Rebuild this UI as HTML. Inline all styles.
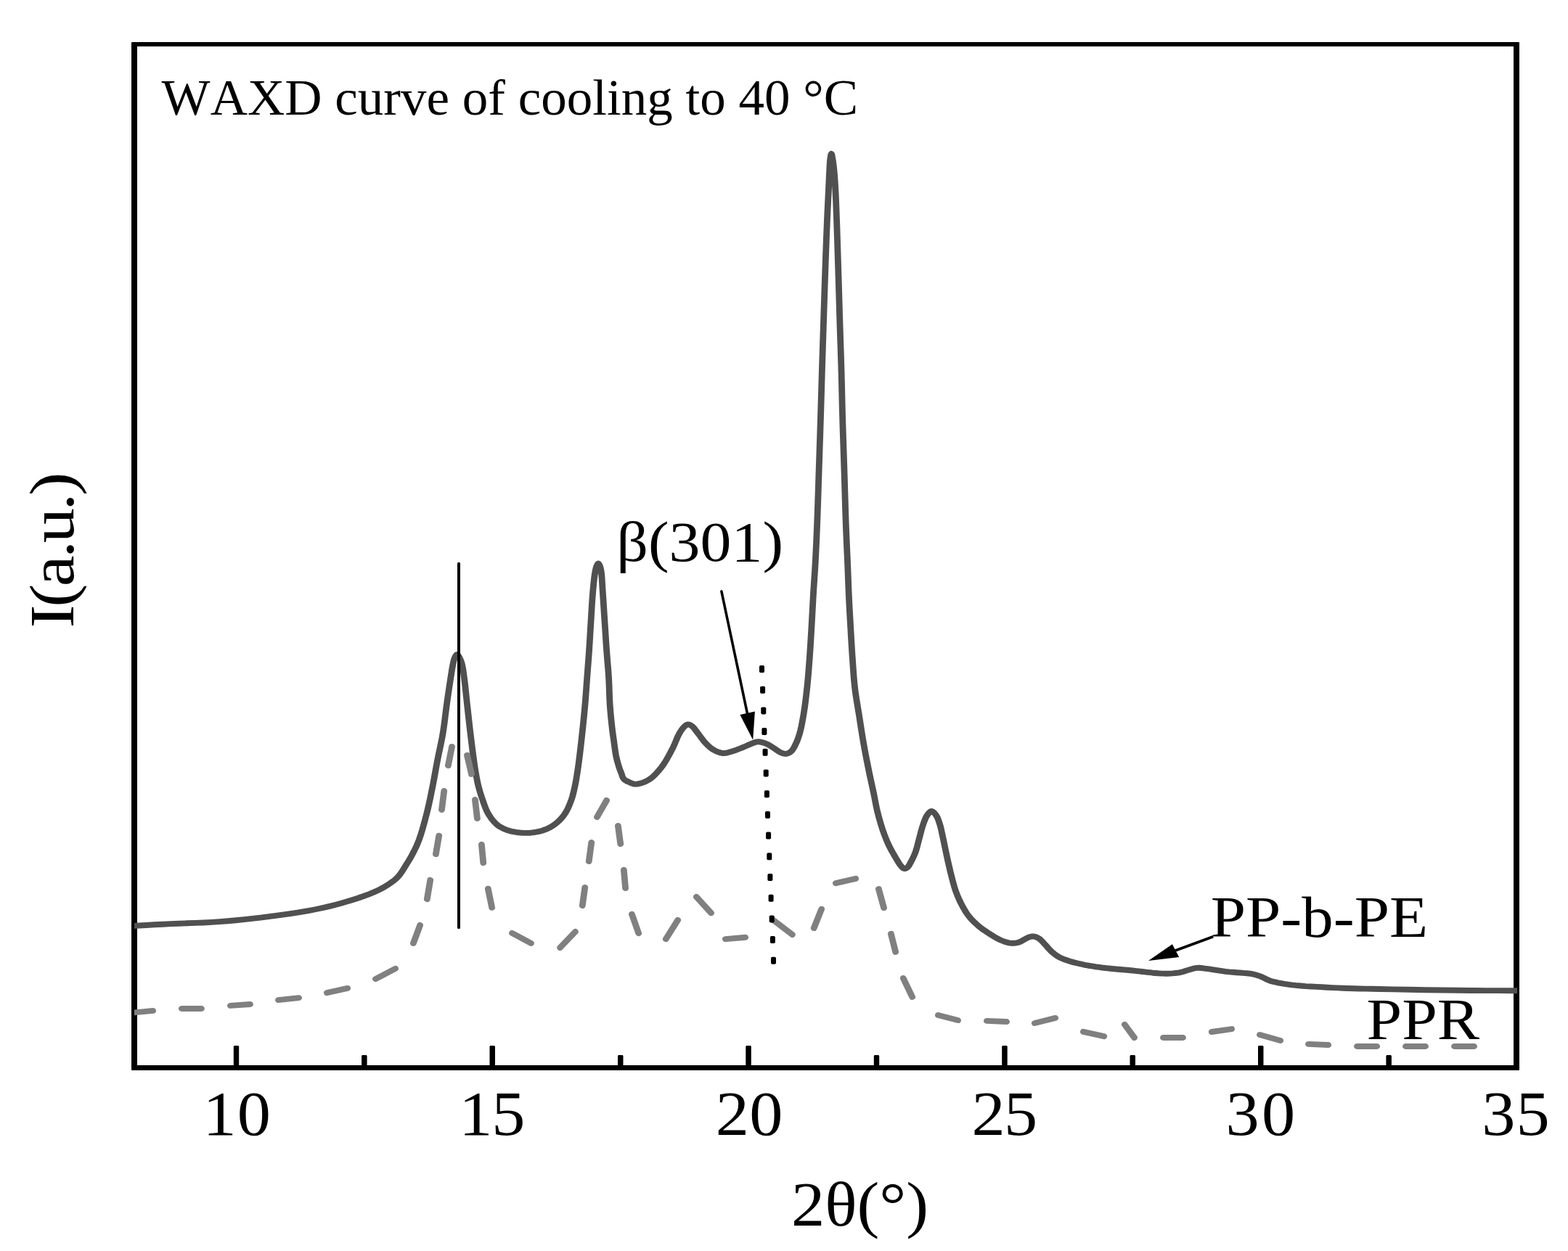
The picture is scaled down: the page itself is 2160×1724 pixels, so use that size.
<!DOCTYPE html>
<html lang="en">
<head>
<meta charset="utf-8">
<title>WAXD curve of cooling to 40 °C</title>
<style>
html,body{margin:0;padding:0;background:#fff;}
body{width:2160px;height:1724px;overflow:hidden;}
svg{display:block;}
text{font-family:"Liberation Serif","DejaVu Serif",serif;fill:#000;font-kerning:none;}
</style>
</head>
<body>
<svg width="2160" height="1724" viewBox="0 0 2160 1724">
<defs><clipPath id="plotclip"><rect x="185" y="58" width="1905" height="1417"/></clipPath></defs>
<rect width="2160" height="1724" fill="#fff"/>
<g id="frame" fill="#000">
<rect x="181" y="58" width="8" height="1417" rx="1.5"/>
<rect x="2085" y="58" width="8" height="1417" rx="1.5"/>
<rect x="181" y="58" width="1912" height="6" rx="1.5"/>
<rect x="181" y="1468" width="1912" height="7" rx="1.5"/>
</g>
<g id="ticks" fill="#000"><path d="M321.8,1470V1442.0L322.8,1441.0H328.2L329.2,1442.0V1470Z"/><path d="M674.5,1470V1442.0L675.5,1441.0H681.0L682.0,1442.0V1470Z"/><path d="M1027.3,1470V1442.0L1028.3,1441.0H1033.8L1034.8,1442.0V1470Z"/><path d="M1380.2,1470V1442.0L1381.2,1441.0H1386.7L1387.7,1442.0V1470Z"/><path d="M1733.0,1470V1442.0L1734.0,1441.0H1739.5L1740.5,1442.0V1470Z"/><path d="M498.1,1470V1455.0L499.1,1454.0H504.6L505.6,1455.0V1470Z"/><path d="M851.0,1470V1455.0L852.0,1454.0H857.5L858.5,1455.0V1470Z"/><path d="M1203.8,1470V1455.0L1204.8,1454.0H1210.2L1211.2,1455.0V1470Z"/><path d="M1556.5,1470V1455.0L1557.5,1454.0H1563.0L1564.0,1455.0V1470Z"/><path d="M1909.4,1470V1455.0L1910.4,1454.0H1915.9L1916.9,1455.0V1470Z"/></g>
<g clip-path="url(#plotclip)">
<g id="ppbpe-curve" fill="none" stroke="#505050" stroke-width="7.9" stroke-linejoin="round" stroke-linecap="butt" transform="scale(1.114,1)">
<path d="M162.48,1276.1 L162.68,1276.1 L163.24,1276.1 L164.08,1276.0 L165.11,1276.0 L166.25,1275.9 L172.08,1275.5 L180.69,1275.0 L190.93,1274.3 L201.64,1273.7 L211.67,1273.1 L221.53,1272.7 L231.53,1272.3 L241.61,1271.9 L251.71,1271.5 L261.76,1270.9 L271.78,1270.1 L281.81,1269.2 L291.83,1268.2 L301.84,1267.1 L311.85,1265.9 L322.04,1264.6 L332.39,1263.2 L342.65,1261.7 L352.58,1260.2 L361.94,1258.6 L369.05,1257.4 L375.77,1256.1 L382.27,1254.9 L388.71,1253.5 L395.24,1252.0 L401.94,1250.4 L408.64,1248.6 L415.32,1246.7 L421.99,1244.7 L428.64,1242.6 L435.54,1240.2 L442.61,1237.7 L449.57,1235.0 L456.13,1232.3 L462.03,1229.6 L465.82,1227.7 L469.30,1225.9 L472.55,1224.0 L475.66,1222.1 L478.73,1220.0 L481.61,1217.9 L484.42,1215.7 L487.12,1213.5 L489.69,1211.0 L492.10,1208.4 L494.37,1205.4 L496.46,1202.2 L498.42,1198.8 L500.30,1195.3 L502.15,1192.0 L503.89,1188.9 L505.56,1185.9 L507.19,1182.8 L508.77,1179.7 L510.32,1176.5 L511.96,1173.0 L513.55,1169.4 L515.10,1165.7 L516.62,1161.8 L518.13,1157.5 L520.18,1150.9 L522.22,1143.5 L524.19,1135.7 L526.07,1127.9 L527.83,1120.3 L529.36,1113.3 L530.77,1106.4 L532.09,1099.5 L533.37,1092.5 L534.65,1085.5 L535.95,1078.1 L537.20,1070.5 L538.42,1063.0 L539.66,1055.4 L540.93,1047.8 L542.30,1040.2 L543.73,1032.7 L545.16,1025.2 L546.53,1017.6 L547.76,1010.0 L548.81,1002.3 L549.73,994.6 L550.58,986.9 L551.43,979.2 L552.33,971.6 L553.31,963.9 L554.33,956.1 L555.36,948.3 L556.35,941.0 L557.27,934.4 L557.86,930.2 L558.40,926.2 L558.93,922.5 L559.47,919.0 L560.05,915.8 L560.49,913.6 L560.92,911.4 L561.37,909.4 L561.88,907.6 L562.48,906.0 L562.96,904.9 L563.49,903.9 L564.04,902.9 L564.61,902.3 L565.17,902.0 L565.74,902.2 L566.33,902.9 L566.92,903.8 L567.50,904.9 L568.04,906.0 L568.78,907.6 L569.49,909.4 L570.16,911.4 L570.79,913.5 L571.36,915.8 L572.03,919.0 L572.59,922.5 L573.08,926.2 L573.56,930.2 L574.06,934.4 L574.80,941.0 L575.54,948.4 L576.27,956.1 L577.00,964.0 L577.74,971.6 L578.48,979.0 L579.22,986.5 L579.96,993.9 L580.72,1001.4 L581.51,1008.8 L582.34,1016.4 L583.20,1024.3 L584.07,1032.0 L584.93,1039.4 L585.73,1046.0 L586.24,1050.1 L586.72,1053.9 L587.20,1057.5 L587.69,1061.0 L588.24,1064.6 L588.83,1068.3 L589.43,1072.1 L590.08,1075.8 L590.78,1079.5 L591.56,1083.2 L592.44,1086.9 L593.38,1090.6 L594.39,1094.3 L595.46,1098.0 L596.59,1101.7 L597.76,1105.5 L598.95,1109.3 L600.22,1113.1 L601.63,1116.8 L603.23,1120.3 L604.97,1123.6 L606.87,1126.8 L608.91,1129.9 L611.06,1132.7 L613.29,1135.2 L615.32,1137.1 L617.44,1138.8 L619.63,1140.2 L621.87,1141.5 L624.15,1142.7 L626.40,1143.7 L628.69,1144.5 L631.02,1145.3 L633.40,1145.9 L635.82,1146.4 L638.41,1146.9 L641.05,1147.3 L643.73,1147.6 L646.45,1147.8 L649.19,1147.9 L652.14,1147.9 L655.14,1147.7 L658.17,1147.4 L661.19,1147.0 L664.18,1146.4 L667.25,1145.6 L670.34,1144.7 L673.40,1143.5 L676.36,1142.3 L679.17,1140.8 L681.72,1139.2 L684.17,1137.5 L686.51,1135.6 L688.74,1133.6 L690.84,1131.5 L692.72,1129.5 L694.47,1127.4 L696.11,1125.2 L697.68,1122.8 L699.19,1120.3 L700.91,1117.0 L702.55,1113.3 L704.07,1109.5 L705.47,1105.5 L706.73,1101.7 L707.79,1098.0 L708.70,1094.3 L709.50,1090.6 L710.24,1086.9 L710.95,1083.2 L711.63,1079.5 L712.26,1075.8 L712.83,1072.1 L713.38,1068.3 L713.91,1064.6 L714.41,1061.0 L714.88,1057.5 L715.32,1053.9 L715.77,1050.1 L716.25,1046.0 L716.99,1039.4 L717.77,1032.0 L718.57,1024.3 L719.36,1016.4 L720.11,1008.8 L720.82,1001.4 L721.51,993.9 L722.18,986.5 L722.82,979.0 L723.43,971.6 L723.98,964.2 L724.49,956.7 L724.98,949.3 L725.45,941.8 L725.94,934.4 L726.45,927.0 L726.97,919.5 L727.48,912.1 L727.98,904.6 L728.46,897.2 L728.89,889.8 L729.30,882.5 L729.69,875.1 L730.10,867.6 L730.52,860.0 L731.00,851.2 L731.48,842.1 L731.98,832.9 L732.53,824.0 L733.12,815.8 L733.64,809.5 L734.17,803.4 L734.73,797.6 L735.34,792.3 L736.00,787.9 L736.37,785.8 L736.76,784.0 L737.16,782.4 L737.59,780.9 L738.06,779.6 L738.40,778.8 L738.75,778.0 L739.12,777.3 L739.49,776.8 L739.86,776.6 L740.22,776.8 L740.60,777.3 L740.97,778.0 L741.32,778.8 L741.65,779.6 L742.09,780.9 L742.48,782.4 L742.82,784.0 L743.14,785.8 L743.45,787.9 L743.93,792.3 L744.32,797.6 L744.65,803.4 L744.97,809.5 L745.33,815.8 L745.84,824.1 L746.36,832.9 L746.89,842.1 L747.42,851.2 L747.94,860.0 L748.39,867.6 L748.83,875.1 L749.26,882.5 L749.71,889.8 L750.18,897.2 L750.70,904.6 L751.25,912.1 L751.81,919.5 L752.33,927.0 L752.78,934.4 L753.12,941.9 L753.36,949.4 L753.58,956.9 L753.85,964.3 L754.22,971.6 L754.70,978.6 L755.26,985.7 L755.87,992.6 L756.50,999.1 L757.09,1005.0 L757.48,1008.5 L757.86,1011.7 L758.25,1014.7 L758.65,1017.8 L759.07,1021.0 L759.55,1025.0 L760.03,1029.1 L760.54,1033.3 L761.11,1037.4 L761.76,1041.4 L762.44,1044.9 L763.21,1048.3 L764.01,1051.6 L764.83,1054.8 L765.62,1057.6 L766.17,1059.4 L766.72,1061.1 L767.27,1062.7 L767.83,1064.2 L768.40,1065.8 L768.92,1067.4 L769.40,1069.1 L769.92,1070.7 L770.54,1072.2 L771.36,1073.5 L772.42,1074.6 L773.67,1075.5 L775.03,1076.4 L776.44,1077.1 L777.83,1077.8 L779.18,1078.5 L780.56,1079.2 L781.95,1079.8 L783.38,1080.3 L784.83,1080.6 L786.39,1080.6 L788.00,1080.5 L789.63,1080.1 L791.25,1079.7 L792.82,1079.2 L794.33,1078.7 L795.82,1078.1 L797.29,1077.5 L798.75,1076.7 L800.18,1075.9 L801.66,1075.0 L803.11,1074.0 L804.55,1072.9 L805.99,1071.7 L807.45,1070.3 L809.36,1068.3 L811.34,1066.0 L813.31,1063.6 L815.18,1061.2 L816.88,1058.9 L818.11,1057.2 L819.20,1055.5 L820.24,1053.9 L821.30,1052.1 L822.44,1050.1 L824.35,1046.6 L826.41,1042.5 L828.52,1038.2 L830.59,1033.8 L832.50,1029.6 L834.09,1025.7 L835.55,1021.8 L836.97,1018.0 L838.41,1014.3 L839.95,1011.0 L841.25,1008.6 L842.60,1006.3 L843.97,1004.1 L845.34,1002.3 L846.68,1000.8 L847.51,1000.0 L848.32,999.4 L849.13,998.9 L849.95,998.5 L850.81,998.4 L851.78,998.5 L852.77,998.8 L853.79,999.3 L854.82,1000.0 L855.83,1000.8 L857.32,1002.3 L858.81,1004.2 L860.31,1006.4 L861.83,1008.7 L863.38,1011.0 L865.13,1013.6 L866.91,1016.3 L868.72,1019.0 L870.59,1021.7 L872.53,1024.1 L874.40,1026.2 L876.32,1028.2 L878.30,1030.2 L880.35,1031.9 L882.50,1033.4 L884.72,1034.7 L887.05,1035.9 L889.44,1036.9 L891.86,1037.6 L894.25,1038.0 L896.57,1037.9 L898.89,1037.5 L901.21,1036.8 L903.55,1036.0 L905.92,1035.2 L908.58,1034.3 L911.28,1033.2 L913.99,1032.0 L916.68,1030.8 L919.30,1029.6 L921.74,1028.5 L924.18,1027.3 L926.56,1026.1 L928.84,1025.0 L930.97,1024.1 L932.38,1023.5 L933.68,1023.0 L934.93,1022.6 L936.22,1022.3 L937.61,1022.2 L939.50,1022.3 L941.51,1022.8 L943.59,1023.4 L945.66,1024.1 L947.67,1025.0 L949.72,1026.1 L951.75,1027.3 L953.75,1028.7 L955.71,1030.1 L957.63,1031.5 L959.36,1032.8 L961.06,1034.1 L962.73,1035.4 L964.36,1036.5 L965.98,1037.4 L967.25,1037.9 L968.50,1038.4 L969.73,1038.7 L970.95,1038.9 L972.17,1038.8 L973.49,1038.5 L974.82,1037.9 L976.14,1037.2 L977.39,1036.3 L978.55,1035.2 L979.76,1033.7 L980.85,1032.0 L981.86,1030.1 L982.81,1028.0 L983.75,1025.9 L984.86,1023.3 L985.91,1020.5 L986.91,1017.5 L987.86,1014.3 L988.78,1011.0 L989.90,1006.3 L990.94,1001.2 L991.91,995.8 L992.83,990.2 L993.72,984.5 L994.70,977.5 L995.62,970.2 L996.48,962.6 L997.28,955.0 L998.03,947.5 L998.70,940.0 L999.31,932.5 L999.87,925.1 L1000.39,917.5 L1000.90,910.0 L1001.39,902.5 L1001.84,895.0 L1002.27,887.5 L1002.70,879.7 L1003.14,871.6 L1003.70,860.9 L1004.26,849.5 L1004.82,837.8 L1005.38,826.4 L1005.92,815.8 L1006.37,808.1 L1006.80,800.9 L1007.24,793.8 L1007.66,786.6 L1008.08,778.9 L1008.57,768.6 L1009.05,757.8 L1009.52,746.6 L1009.97,735.0 L1010.41,723.2 L1010.89,709.0 L1011.35,694.2 L1011.79,679.1 L1012.22,663.9 L1012.66,648.8 L1013.10,633.9 L1013.53,619.0 L1013.97,604.2 L1014.39,589.3 L1014.81,574.4 L1015.22,559.3 L1015.63,543.9 L1016.02,528.7 L1016.41,513.9 L1016.79,500.0 L1017.08,489.6 L1017.36,479.9 L1017.63,470.4 L1017.92,460.7 L1018.22,450.3 L1018.62,436.4 L1019.04,421.7 L1019.47,406.4 L1019.92,391.1 L1020.38,376.0 L1020.86,360.7 L1021.37,345.0 L1021.89,329.5 L1022.40,314.8 L1022.89,301.6 L1023.23,293.3 L1023.56,285.5 L1023.89,278.3 L1024.20,271.3 L1024.51,264.4 L1024.75,258.5 L1024.98,252.6 L1025.21,247.0 L1025.44,241.6 L1025.67,236.5 L1025.84,232.7 L1026.00,229.1 L1026.16,225.6 L1026.37,222.4 L1026.66,219.5 L1026.91,217.6 L1027.19,215.6 L1027.49,213.8 L1027.79,212.5 L1028.10,212.0 L1028.40,212.5 L1028.71,213.8 L1029.02,215.6 L1029.33,217.6 L1029.62,219.5 L1030.04,222.4 L1030.43,225.6 L1030.81,229.1 L1031.17,232.7 L1031.51,236.5 L1031.91,241.6 L1032.27,247.0 L1032.61,252.6 L1032.92,258.5 L1033.21,264.4 L1033.52,271.3 L1033.79,278.3 L1034.04,285.5 L1034.29,293.3 L1034.56,301.6 L1034.98,314.8 L1035.41,329.5 L1035.85,345.0 L1036.29,360.7 L1036.71,376.0 L1037.12,391.0 L1037.52,406.1 L1037.91,421.2 L1038.30,436.0 L1038.69,450.3 L1039.04,462.6 L1039.39,474.5 L1039.74,486.3 L1040.08,498.0 L1040.39,510.0 L1040.70,522.6 L1040.97,535.4 L1041.23,548.2 L1041.51,561.2 L1041.83,574.4 L1042.22,588.9 L1042.65,603.8 L1043.10,618.8 L1043.55,633.8 L1043.99,648.8 L1044.40,663.9 L1044.80,679.1 L1045.20,694.2 L1045.61,709.0 L1046.05,723.2 L1046.47,735.0 L1046.91,746.5 L1047.36,757.6 L1047.80,768.4 L1048.20,778.9 L1048.51,787.6 L1048.79,795.9 L1049.06,804.1 L1049.33,812.1 L1049.64,820.0 L1049.95,827.2 L1050.27,834.1 L1050.60,841.0 L1050.96,848.2 L1051.35,855.8 L1051.89,866.4 L1052.47,877.8 L1053.10,889.5 L1053.75,901.0 L1054.40,911.6 L1054.90,919.5 L1055.38,927.0 L1055.88,934.3 L1056.47,941.5 L1057.18,948.8 L1058.07,956.3 L1059.09,963.7 L1060.18,971.1 L1061.30,978.6 L1062.39,986.0 L1063.42,993.4 L1064.45,1000.9 L1065.48,1008.3 L1066.56,1015.8 L1067.68,1023.2 L1068.89,1030.7 L1070.14,1038.2 L1071.43,1045.6 L1072.75,1053.0 L1074.06,1060.3 L1075.31,1067.0 L1076.60,1073.7 L1077.89,1080.3 L1079.14,1086.7 L1080.34,1093.0 L1081.31,1098.4 L1082.20,1103.6 L1083.08,1108.7 L1084.03,1113.8 L1085.10,1118.9 L1086.36,1124.4 L1087.73,1129.9 L1089.18,1135.4 L1090.68,1140.8 L1092.19,1145.8 L1093.46,1149.8 L1094.73,1153.5 L1096.04,1157.2 L1097.43,1160.8 L1098.92,1164.4 L1100.64,1168.3 L1102.51,1172.2 L1104.45,1176.1 L1106.33,1179.7 L1108.08,1183.0 L1109.23,1185.2 L1110.32,1187.2 L1111.39,1189.2 L1112.45,1190.9 L1113.55,1192.5 L1114.43,1193.7 L1115.32,1194.8 L1116.21,1195.8 L1117.12,1196.6 L1118.04,1197.0 L1118.85,1197.0 L1119.67,1196.9 L1120.50,1196.5 L1121.31,1195.9 L1122.08,1195.3 L1123.15,1194.1 L1124.16,1192.4 L1125.13,1190.5 L1126.08,1188.5 L1127.02,1186.5 L1128.12,1184.2 L1129.20,1181.7 L1130.26,1179.2 L1131.27,1176.5 L1132.23,1173.7 L1133.25,1170.2 L1134.17,1166.5 L1135.05,1162.7 L1135.91,1158.9 L1136.80,1155.1 L1137.71,1151.3 L1138.60,1147.5 L1139.51,1143.7 L1140.45,1140.0 L1141.47,1136.5 L1142.38,1133.6 L1143.31,1130.8 L1144.28,1128.1 L1145.34,1125.6 L1146.50,1123.5 L1147.47,1122.0 L1148.51,1120.5 L1149.59,1119.2 L1150.70,1118.3 L1151.80,1117.9 L1152.95,1118.2 L1154.16,1119.1 L1155.36,1120.4 L1156.50,1121.9 L1157.54,1123.5 L1158.70,1125.6 L1159.72,1128.1 L1160.63,1130.8 L1161.48,1133.6 L1162.30,1136.5 L1163.18,1139.9 L1163.95,1143.5 L1164.67,1147.2 L1165.39,1151.1 L1166.16,1155.1 L1167.17,1160.3 L1168.20,1165.9 L1169.26,1171.6 L1170.35,1177.3 L1171.45,1183.0 L1172.60,1188.7 L1173.78,1194.4 L1174.97,1200.2 L1176.18,1205.7 L1177.38,1210.9 L1178.32,1214.9 L1179.24,1218.6 L1180.17,1222.3 L1181.18,1225.9 L1182.32,1229.5 L1183.64,1233.3 L1185.08,1237.1 L1186.61,1240.9 L1188.21,1244.6 L1189.86,1248.1 L1191.39,1251.2 L1192.96,1254.3 L1194.59,1257.2 L1196.32,1260.1 L1198.20,1262.9 L1200.32,1265.7 L1202.60,1268.4 L1204.99,1271.1 L1207.43,1273.6 L1209.87,1276.0 L1212.14,1278.0 L1214.43,1280.0 L1216.76,1281.8 L1219.13,1283.5 L1221.54,1285.3 L1224.15,1287.2 L1226.84,1289.1 L1229.56,1291.0 L1232.27,1292.8 L1234.92,1294.3 L1237.18,1295.5 L1239.44,1296.5 L1241.67,1297.5 L1243.85,1298.3 L1245.96,1298.9 L1247.65,1299.3 L1249.29,1299.6 L1250.89,1299.8 L1252.47,1299.8 L1254.04,1299.8 L1255.51,1299.6 L1256.95,1299.4 L1258.38,1299.0 L1259.80,1298.6 L1261.22,1298.0 L1262.80,1297.2 L1264.40,1296.2 L1265.98,1295.2 L1267.50,1294.2 L1268.94,1293.3 L1269.97,1292.7 L1270.95,1292.2 L1271.89,1291.7 L1272.83,1291.3 L1273.79,1291.0 L1274.69,1290.8 L1275.58,1290.6 L1276.49,1290.4 L1277.41,1290.4 L1278.37,1290.5 L1279.64,1290.8 L1280.97,1291.3 L1282.33,1291.9 L1283.69,1292.7 L1285.01,1293.6 L1286.57,1294.9 L1288.11,1296.6 L1289.63,1298.3 L1291.13,1300.2 L1292.64,1302.0 L1294.16,1303.8 L1295.64,1305.8 L1297.13,1307.7 L1298.66,1309.5 L1300.27,1311.3 L1301.94,1312.9 L1303.65,1314.5 L1305.42,1316.0 L1307.28,1317.4 L1309.25,1318.7 L1311.53,1320.0 L1313.94,1321.2 L1316.45,1322.3 L1319.05,1323.3 L1321.72,1324.3 L1324.89,1325.4 L1328.20,1326.4 L1331.60,1327.3 L1335.03,1328.2 L1338.42,1329.0 L1341.73,1329.8 L1345.01,1330.5 L1348.32,1331.1 L1351.67,1331.7 L1355.12,1332.3 L1358.96,1332.9 L1362.88,1333.5 L1366.87,1334.0 L1370.95,1334.5 L1375.13,1335.0 L1380.09,1335.5 L1385.32,1336.0 L1390.59,1336.5 L1395.68,1337.0 L1400.36,1337.5 L1403.61,1337.9 L1406.63,1338.3 L1409.54,1338.6 L1412.44,1339.0 L1415.44,1339.4 L1418.74,1339.8 L1422.10,1340.2 L1425.48,1340.7 L1428.84,1341.0 L1432.14,1341.3 L1435.20,1341.5 L1438.23,1341.6 L1441.24,1341.7 L1444.20,1341.7 L1447.13,1341.6 L1449.87,1341.4 L1452.60,1341.1 L1455.29,1340.8 L1457.90,1340.3 L1460.41,1339.8 L1462.53,1339.2 L1464.55,1338.5 L1466.53,1337.8 L1468.48,1337.1 L1470.47,1336.4 L1472.40,1335.8 L1474.30,1335.2 L1476.22,1334.6 L1478.19,1334.2 L1480.25,1333.9 L1482.76,1333.8 L1485.36,1334.0 L1488.05,1334.4 L1490.86,1334.8 L1493.81,1335.2 L1497.81,1335.8 L1502.10,1336.6 L1506.54,1337.4 L1511.03,1338.2 L1515.44,1338.9 L1519.90,1339.4 L1524.48,1339.8 L1529.01,1340.2 L1533.30,1340.5 L1537.16,1340.9 L1539.56,1341.1 L1541.75,1341.3 L1543.82,1341.5 L1545.85,1341.7 L1547.94,1342.1 L1550.12,1342.6 L1552.31,1343.2 L1554.48,1344.0 L1556.65,1344.7 L1558.80,1345.6 L1560.97,1346.6 L1563.11,1347.8 L1565.25,1349.0 L1567.39,1350.2 L1569.57,1351.2 L1571.65,1352.0 L1573.70,1352.6 L1575.79,1353.2 L1578.01,1353.7 L1580.43,1354.3 L1584.20,1355.1 L1588.33,1355.9 L1592.73,1356.6 L1597.33,1357.3 L1602.06,1357.9 L1608.13,1358.5 L1614.58,1359.1 L1621.24,1359.5 L1627.95,1359.9 L1634.56,1360.3 L1641.01,1360.7 L1647.42,1361.1 L1653.86,1361.4 L1660.38,1361.7 L1667.06,1362.0 L1674.27,1362.3 L1681.38,1362.5 L1688.75,1362.6 L1696.69,1362.8 L1705.57,1363.0 L1722.36,1363.4 L1741.85,1363.8 L1762.63,1364.2 L1783.31,1364.5 L1802.51,1364.8 L1819.30,1365.0 L1837.08,1365.1 L1853.73,1365.1 L1867.15,1365.2 L1875.22,1365.2 L1876.08,1365.2 L1876.82,1365.2 L1877.40,1365.2 L1877.78,1365.2 L1877.92,1365.2"/>
</g>
<g id="ppr-curve" fill="none" stroke="#808080" stroke-width="7.9" stroke-linecap="round" transform="scale(1.114,1)">
<path d="M165.53,1395.45L189.11,1392.93M224.69,1389.93L249.07,1389.93M284.95,1385.92L309.32,1384.03M344.20,1378.13L369.48,1375.12M404.27,1368.12L429.68,1361.92M464.47,1349.10L488.89,1334.83M511.10,1300.03L519.44,1274.91M528.10,1239.15L532.07,1212.83M538.96,1177.21L542.85,1151.65M546.21,1115.95L549.16,1089.85M554.21,1054.99L558.85,1028.90M577.60,1040.75L583.06,1066.85M587.43,1101.95L590.18,1128.05M595.50,1163.74L597.64,1189.15M603.50,1224.75L608.35,1250.85M633.21,1285.91L656.64,1299.95M692.55,1306.00L711.44,1283.95M720.20,1248.05L723.32,1222.85M728.23,1187.05L731.36,1160.95M738.28,1126.01L750.18,1102.90M764.27,1137.94L767.29,1163.10M771.40,1198.75L773.43,1224.09M781.33,1259.81L789.67,1286.11M823.40,1294.11L838.18,1267.92M861.19,1235.92L879.40,1258.14M897.10,1294.11L921.68,1291.79M955.39,1267.25L979.80,1288.05M1006.44,1279.05L1015.89,1252.73M1033.56,1217.11L1058.06,1210.88M1086.51,1225.01L1092.98,1251.10M1101.76,1286.79L1107.42,1311.90M1116.93,1347.99L1128.14,1373.99M1160.11,1399.00L1184.55,1406.08M1220.27,1406.89L1244.72,1408.05M1279.44,1409.95L1304.94,1402.91M1339.67,1421.85L1365.17,1428.13M1390.75,1411.85L1402.69,1430.00M1438.42,1430.00L1462.79,1430.00M1498.41,1421.98L1522.99,1418.06M1557.85,1426.02L1583.29,1434.04M1618.04,1438.92L1642.50,1440.07M1678.12,1442.03L1702.59,1442.03M1738.24,1442.03L1762.66,1442.03M1798.47,1442.03L1822.80,1442.03"/>
</g>
</g>
<g id="dotted" fill="#000"><rect x="1046.0" y="917.0" width="7" height="10" rx="1.8"/><rect x="1047.1" y="945.7" width="7" height="10" rx="1.8"/><rect x="1048.3" y="974.4" width="7" height="10" rx="1.8"/><rect x="1049.4" y="1003.1" width="7" height="10" rx="1.8"/><rect x="1050.6" y="1031.8" width="7" height="10" rx="1.8"/><rect x="1051.7" y="1060.5" width="7" height="10" rx="1.8"/><rect x="1052.9" y="1089.2" width="7" height="10" rx="1.8"/><rect x="1054.0" y="1117.9" width="7" height="10" rx="1.8"/><rect x="1055.1" y="1146.6" width="7" height="10" rx="1.8"/><rect x="1056.3" y="1175.3" width="7" height="10" rx="1.8"/><rect x="1057.4" y="1204.0" width="7" height="10" rx="1.8"/><rect x="1058.6" y="1232.7" width="7" height="10" rx="1.8"/><rect x="1059.7" y="1261.4" width="7" height="10" rx="1.8"/><rect x="1060.9" y="1290.1" width="7" height="10" rx="1.8"/><rect x="1062.0" y="1318.8" width="7" height="10" rx="1.8"/></g>
<g id="markers" stroke="#000" fill="#000">
<path d="M630,776L631,775H633L634,776V1279L633,1280H631L630,1279Z" stroke="none"/>
<path d="M993.9,815L1033,1000" stroke-width="3.6" stroke-linecap="round" fill="none"/>
<path d="M1037.2,1019.6L1019.4,985L1039.9,980.4Z" stroke="none"/>
<path d="M1671.2,1290.8L1602,1316.2" stroke-width="3.8" stroke-linecap="butt" fill="none"/>
<path d="M1582,1324L1614.9,1301.2L1624.2,1319Z" stroke="none"/>
</g>
<g id="labels">
<text x="222.6" y="158.0" font-size="69.8" textLength="959.5" lengthAdjust="spacingAndGlyphs">WAXD curve of cooling to 40 °C</text><text transform="translate(325.5,0) scale(1.067,1)" x="-43.2 1.2" y="1563.8" font-size="86.6">10</text><text transform="translate(678.3,0) scale(1.067,1)" x="-43.2 -0.9" y="1563.8" font-size="86.6">15</text><text transform="translate(1031.1,0) scale(1.067,1)" x="-42.5 1.2" y="1563.8" font-size="86.6">20</text><text transform="translate(1383.9,0) scale(1.067,1)" x="-42.5 -0.9" y="1563.8" font-size="86.6">25</text><text transform="translate(1736.7,0) scale(1.067,1)" x="-45.2 1.2" y="1563.8" font-size="86.6">30</text><text transform="translate(2089.5,0) scale(1.067,1)" x="-45.2 -0.9" y="1563.8" font-size="86.6">35</text><text x="1089.9" y="1688.7" font-size="87" textLength="189.2" lengthAdjust="spacingAndGlyphs">2θ(°)</text><text x="849.3" y="773.0" font-size="79.2" textLength="229.7" lengthAdjust="spacingAndGlyphs">β(301)</text><text x="1667.7" y="1290.9" font-size="80" textLength="299.4" lengthAdjust="spacingAndGlyphs">PP-b-PE</text><text x="1882.5" y="1431.5" font-size="79.5" textLength="155.7" lengthAdjust="spacingAndGlyphs">PPR</text>
<text transform="translate(100.65,865.4) rotate(-90)" x="0" y="0" font-size="87" letter-spacing="-3.2" textLength="210.9" lengthAdjust="spacingAndGlyphs">I(a.u.)</text>
</g>
</svg>
</body>
</html>
